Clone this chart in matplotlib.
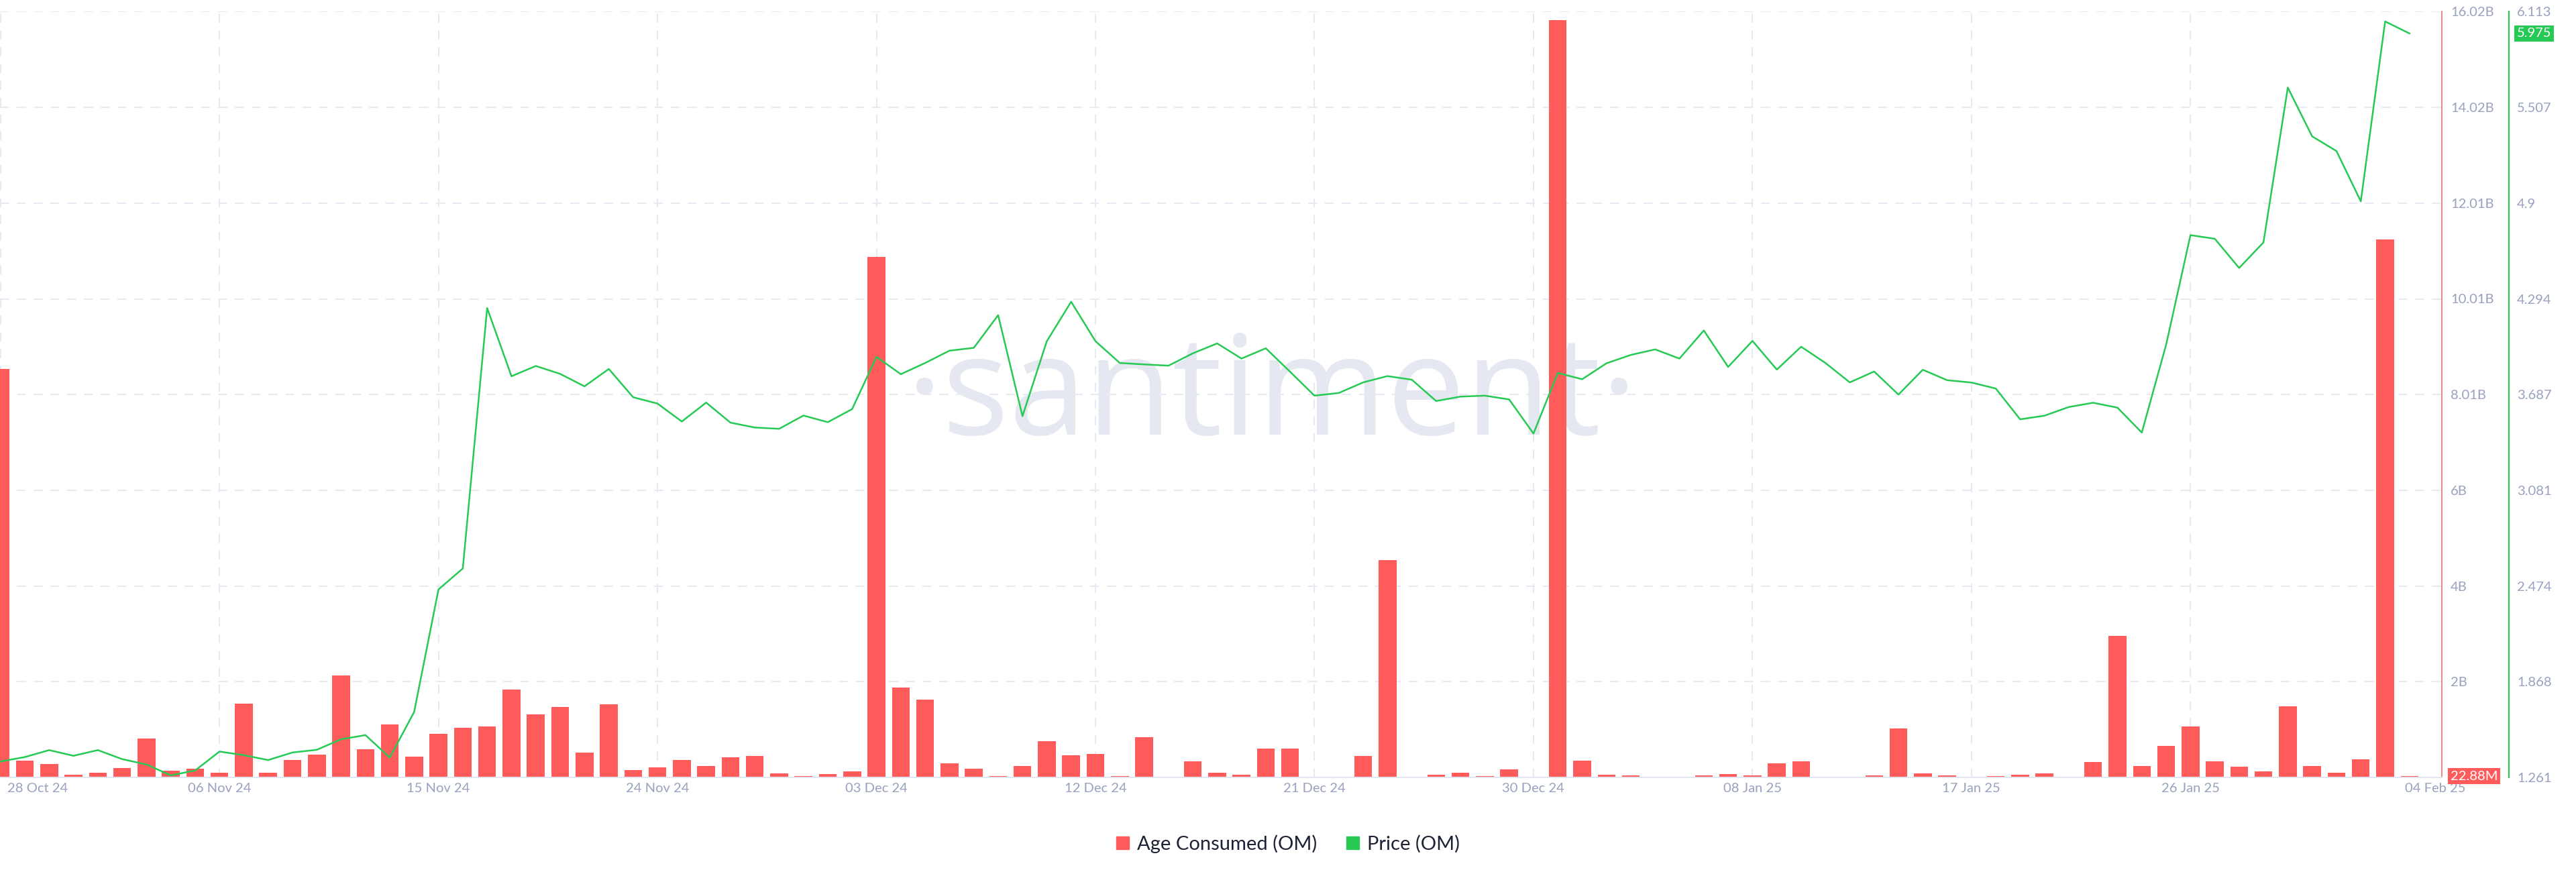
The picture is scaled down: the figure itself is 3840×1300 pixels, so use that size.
import numpy as np
import pandas as pd
import matplotlib
matplotlib.use('Agg')
import matplotlib.pyplot as plt
import matplotlib.dates as mdates
from matplotlib.patches import Patch
from matplotlib.transforms import ScaledTranslation, blended_transform_factory
from matplotlib import font_manager

# daily series, 28 Oct 24 .. 04 Feb 25
dates = pd.date_range('2024-10-28', '2025-02-04', freq='D')

# age consumed (OM), in billions
age_consumed_b = [
    8.545, 0.355, 0.278, 0.050, 0.102, 0.198, 0.810, 0.140, 0.178, 0.094,
    1.542, 0.102, 0.371, 0.481, 2.126, 0.586, 1.103, 0.433, 0.913, 1.044,
    1.064, 1.833, 1.321, 1.468, 0.523, 1.530, 0.156, 0.215, 0.360, 0.234,
    0.425, 0.449, 0.079, 0.033, 0.075, 0.122, 10.886, 1.884, 1.627, 0.290,
    0.187, 0.033, 0.238, 0.762, 0.467, 0.496, 0.033, 0.846, 0.014, 0.332,
    0.103, 0.051, 0.598, 0.608, 0.019, 0.019, 0.453, 4.540, 0.014, 0.056,
    0.103, 0.033, 0.173, 0.003, 15.850, 0.355, 0.051, 0.042, 0.003, 0.019,
    0.047, 0.075, 0.042, 0.299, 0.341, 0.002, 0.002, 0.042, 1.029, 0.079,
    0.037, 0.019, 0.033, 0.061, 0.079, 0.019, 0.318, 2.955, 0.243, 0.664,
    1.061, 0.337, 0.229, 0.126, 1.487, 0.243, 0.103, 0.379, 11.260, 0.02288,
]

# price (OM), USD
price = [
    1.362, 1.390, 1.434, 1.398, 1.434, 1.377, 1.343, 1.274, 1.305, 1.425,
    1.402, 1.371, 1.419, 1.436, 1.503, 1.529, 1.387, 1.676, 2.452, 2.585,
    4.235, 3.803, 3.868, 3.818, 3.739, 3.849, 3.670, 3.630, 3.516, 3.636,
    3.509, 3.478, 3.470, 3.554, 3.512, 3.595, 3.926, 3.816, 3.887, 3.965,
    3.983, 4.190, 3.550, 4.025, 4.275, 4.025, 3.887, 3.878, 3.870, 3.948,
    4.011, 3.915, 3.980, 3.831, 3.680, 3.697, 3.764, 3.804, 3.781, 3.646,
    3.674, 3.680, 3.656, 3.440, 3.824, 3.784, 3.885, 3.938, 3.973, 3.915,
    4.093, 3.862, 4.027, 3.845, 3.990, 3.887, 3.764, 3.833, 3.687, 3.844,
    3.778, 3.763, 3.725, 3.530, 3.553, 3.608, 3.635, 3.604, 3.446, 4.003,
    4.697, 4.674, 4.489, 4.651, 5.632, 5.323, 5.230, 4.911, 6.051, 5.975,
]

tick_labels = ['28 Oct 24', '06 Nov 24', '15 Nov 24', '24 Nov 24', '03 Dec 24',
               '12 Dec 24', '21 Dec 24', '30 Dec 24', '08 Jan 25', '17 Jan 25',
               '26 Jan 25', '04 Feb 25']
age_tick_labels = ['2B', '4B', '6B', '8.01B', '10.01B', '12.01B', '14.02B', '16.02B']
price_tick_labels = ['1.261', '1.868', '2.474', '3.081', '3.687', '4.294', '4.9', '5.507', '6.113']
age_top = 16.02e9
price_low, price_high = 1.261, 6.113

RED = '#ff5b5b'
GREEN = '#26c953'
MUTED = '#98a2bf'
GRID = '#e8eaf3'

plt.rcParams['font.family'] = ['Lato', 'DejaVu Sans']

age_consumed = np.array(age_consumed_b) * 1e9
tick_dates = pd.to_datetime(tick_labels, format='%d %b %y')

W, H = 3840, 1300
fig = plt.figure(figsize=(W / 100, H / 100), dpi=100)
ax_left, ax_right_px, ax_top_px, ax_bot_px = 0, 3640, 17.4, 1159
ax = fig.add_axes([ax_left / W, 1 - ax_bot_px / H,
                   (ax_right_px - ax_left) / W, (ax_bot_px - ax_top_px) / H])
ax.patch.set_visible(False)

# watermark
names = {f.name for f in font_manager.fontManager.ttflist}
if 'Liberation Sans Narrow' in names:
    wm_family, wm_size = 'Liberation Sans Narrow', 186
else:
    wm_family, wm_size = 'Open Sans', 150
ax.text(1896 / 3640, (1159 - 648) / (1159 - 17.4), '\u00b7santiment\u00b7',
        transform=ax.transAxes, ha='center', va='baseline',
        fontsize=wm_size, family=wm_family, color='#e5e8f1', zorder=0)

# bars
ax.bar(dates, age_consumed, width=0.73, color=RED, zorder=2)
x0 = mdates.date2num(dates[0])
ax.set_xlim(x0 - 0.02, x0 + 100.33)
ax.set_ylim(0, age_top)

# price line
ax2 = ax.twinx()
ax2.plot(dates, price, color=GREEN, lw=1.8, zorder=3)
ax2.set_ylim(price_low, price_high)

# axes styling
ax.yaxis.tick_right()
ax.set_yticks(np.linspace(0, age_top, 9)[1:])
ax.set_yticklabels(age_tick_labels)
ax.tick_params(axis='y', length=0, pad=9.4, labelsize=14.5, labelcolor=MUTED)
ax.grid(True, axis='y', color=GRID, lw=1.5, linestyle=(0, (6.5, 5.5)), zorder=1)
for d in tick_dates[:-1]:
    ax.axvline(d, color=GRID, lw=1.5, linestyle=(0, (6.5, 5.5)), zorder=1)

ax.set_xticks(tick_dates)
ax.set_xticklabels(tick_labels)
ax.tick_params(axis='x', length=0, pad=6, labelsize=14.5, labelcolor=MUTED)
xl = ax.get_xticklabels()
xl[0].set_ha('left')
xl[0].set_transform(xl[0].get_transform() + ScaledTranslation(0.10, 0, fig.dpi_scale_trans))
xl[-1].set_transform(xl[-1].get_transform() + ScaledTranslation(0.38, 0, fig.dpi_scale_trans))

for s in ['top', 'left']:
    ax.spines[s].set_visible(False)
ax.spines['bottom'].set_color('#e3e6ef')
ax.spines['bottom'].set_linewidth(1.5)
ax.spines['right'].set_color(RED)
ax.spines['right'].set_linewidth(1.1)

for s in ['top', 'left', 'bottom']:
    ax2.spines[s].set_visible(False)
ax2.spines['right'].set_position(('axes', 1 + 100 / 3640))
ax2.spines['right'].set_color(GREEN)
ax2.spines['right'].set_linewidth(1.5)
ax2.set_yticks(np.linspace(price_low, price_high, 9))
ax2.set_yticklabels(price_tick_labels)
ax2.tick_params(axis='y', length=0, pad=8.6, labelsize=14.5, labelcolor=MUTED)

# current value tags
tr_age = blended_transform_factory(ax.transAxes, ax.transData)
ax.text(1 + 13 / 3640, age_consumed[-1], '22.88M', transform=tr_age,
        ha='left', va='center', fontsize=14.5, color='white', clip_on=False,
        bbox=dict(boxstyle='square,pad=0.18', fc=RED, ec='none'), zorder=5)
tr_price = blended_transform_factory(ax2.transAxes, ax2.transData)
ax2.text(1 + 112 / 3640, price[-1], '5.975', transform=tr_price,
         ha='left', va='center', fontsize=14.5, color='white', clip_on=False,
         bbox=dict(boxstyle='square,pad=0.18', fc=GREEN, ec='none'), zorder=5)

# legend
handles = [Patch(color=RED, label='Age Consumed (OM)'),
           Patch(color=GREEN, label='Price (OM)')]
fig.legend(handles=handles, loc='center', bbox_to_anchor=(0.5, 1 - 1258 / H),
           ncol=2, frameon=False, fontsize=21, handlelength=0.65, handleheight=0.65,
           handletextpad=0.4, columnspacing=1.5, labelcolor='#1e2235')

fig.savefig('out.png', dpi=100)
